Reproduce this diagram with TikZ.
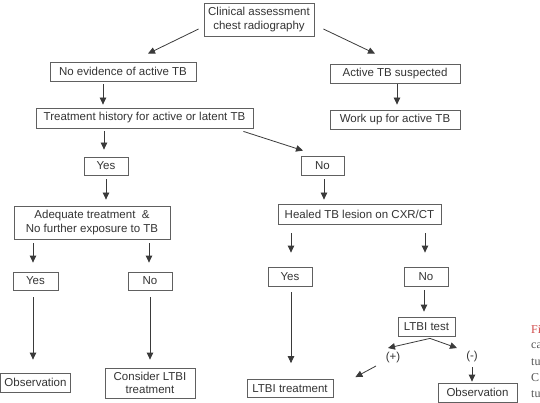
\documentclass[tikz,border=0pt]{standalone}
\usepackage{fontspec}
\setmainfont{Liberation Sans}
\newfontfamily\capserif{Liberation Serif}
\usetikzlibrary{arrows.meta,calc}
\definecolor{boxline}{HTML}{606060}
\definecolor{txt}{HTML}{333333}
\definecolor{arr}{HTML}{3A3A3A}
\definecolor{capred}{HTML}{D04A4A}
\definecolor{capgray}{HTML}{555555}
\begin{document}
\begin{tikzpicture}[x=1pt,y=1pt,
  box/.style={draw=boxline,line width=0.8pt,text=txt,inner sep=0pt,align=center,
    font=\fontsize{11.5}{13.5}\selectfont},
  lab/.style={text=txt,inner sep=0pt,font=\fontsize{11.5}{13.5}\selectfont},
  captext/.style={anchor=west,inner sep=0pt,font=\capserif\fontsize{12}{14}\selectfont},
  arw/.style={draw=arr,line width=0.8pt,-{Triangle[length=7pt,width=6.5pt]}}]
\useasboundingbox (0,0) rectangle (540,-403);
% nodes
\node[box,minimum width=110pt,minimum height=33pt] (clin) at (259,-19.5) {Clinical assessment\\chest radiography};
\node[box,minimum width=146pt,minimum height=19pt] (noev) at (123,-71.5) {No evidence of active TB};
\node[box,minimum width=130pt,minimum height=19pt] (act) at (395,-73.5) {Active TB suspected};
\node[box,minimum width=217pt,minimum height=20pt] (hist) at (144.5,-118) {Treatment history for active or latent TB};
\node[box,minimum width=130pt,minimum height=19pt] (work) at (395,-119.5) {Work up for active TB};
\node[box,minimum width=44pt,minimum height=18pt] (yes1) at (106,-166) {Yes};
\node[box,minimum width=43pt,minimum height=19pt] (no1) at (322.5,-165.5) {No};
\node[box,minimum width=156pt,minimum height=33pt] (adeq) at (92,-222.5) {Adequate treatment\ \ \&\\No further exposure to TB};
\node[box,minimum width=163pt,minimum height=20pt] (heal) at (359.5,-214) {Healed TB lesion on CXR/CT};
\node[box,minimum width=45pt,minimum height=18pt] (yes2) at (35.5,-281) {Yes};
\node[box,minimum width=44pt,minimum height=18pt] (no2) at (150,-281) {No};
\node[box,minimum width=44pt,minimum height=19pt] (yes3) at (290,-276.5) {Yes};
\node[box,minimum width=44pt,minimum height=19pt] (no3) at (426,-276.5) {No};
\node[box,minimum width=70pt,minimum height=19pt] (obs1) at (35.5,-382.5) {Observation};
\node[box,minimum width=90pt,minimum height=30pt] (cons) at (150,-383) {Consider LTBI\\treatment};
\node[box,minimum width=57pt,minimum height=19pt] (ltbit) at (426.5,-326.5) {LTBI test};
\node[box,minimum width=86pt,minimum height=18pt] (ltbix) at (290,-388.5) {LTBI treatment};
\node[box,minimum width=79pt,minimum height=19pt] (obs2) at (477.5,-392.5) {Observation};
\node[lab] (plus) at (393,-358) {(+)};
\node[lab] (minus) at (472,-357) {(-)};
% caption fragments
\node[captext,text=capred] (c1) at (531,-330) {Fi};
\node[captext,text=capgray] (c2) at (531,-346) {ca};
\node[captext,text=capgray] (c3) at (531,-362) {tu};
\node[captext,text=capgray] (c4) at (531,-378) {C};
\node[captext,text=capgray] (c5) at (531,-394) {tu};
% arrows
\draw[arw] ($(clin.west)+(-5,-9.5)$) -- ($(noev.north)+(25,8)$);
\draw[arw] ($(clin.east)+(9,-9.5)$) -- ($(act.north)+(-20,10)$);
\draw[arw] ($(noev.south)+(-20,-3)$) -- ($(hist.north)+(-41.5,3)$);
\draw[arw] ($(act.south)+(2,-1)$) -- ($(work.north)+(2,5)$);
\draw[arw] ($(hist.south)+(-40.5,-3)$) -- ($(yes1.north)+(-2,7)$);
\draw[arw] ($(yes1.south)+(0,-4)$) -- ($(adeq.north)+(14,6)$);
\draw[arw] ($(hist.south east)+(-10,-3)$) -- ($(no1.north)+(-19.5,5)$);
\draw[arw] ($(no1.south)+(1.5,-4)$) -- ($(heal.north)+(-35.5,4)$);
\draw[arw] ($(adeq.south)+(-59,-4)$) -- ($(yes2.north)+(-2.5,9)$);
\draw[arw] ($(adeq.south)+(57,-4)$) -- ($(no2.north)+(-1,9)$);
\draw[arw] ($(heal.south)+(-68.5,-9)$) -- ($(yes3.north)+(1,14)$);
\draw[arw] ($(heal.south)+(65.5,-9)$) -- ($(no3.north)+(-1,14)$);
\draw[arw] ($(yes2.south)+(-2.5,-7)$) -- ($(obs1.north)+(-2.5,13)$);
\draw[arw] ($(no2.south)+(0,-7)$) -- ($(cons.north)+(0,8)$);
\draw[arw] ($(yes3.south)+(1,-6)$) -- ($(ltbix.north)+(1,16)$);
\draw[arw] ($(no3.south)+(-2,-4)$) -- ($(ltbit.north)+(-2.5,5)$);
\draw[arw] ($(ltbit.south)+(3.5,-2)$) -- ($(plus.center)+(-5,10)$);
\draw[arw] ($(ltbit.south)+(3.5,-2)$) -- ($(minus.center)+(-15,9)$);
\draw[arw] ($(plus.center)+(-17,-8)$) -- ($(ltbix.north east)+(22,2)$);
\draw[arw] ($(minus.center)+(0,-10)$) -- ($(obs2.north)+(-5.5,1)$);
\end{tikzpicture}
\end{document}
